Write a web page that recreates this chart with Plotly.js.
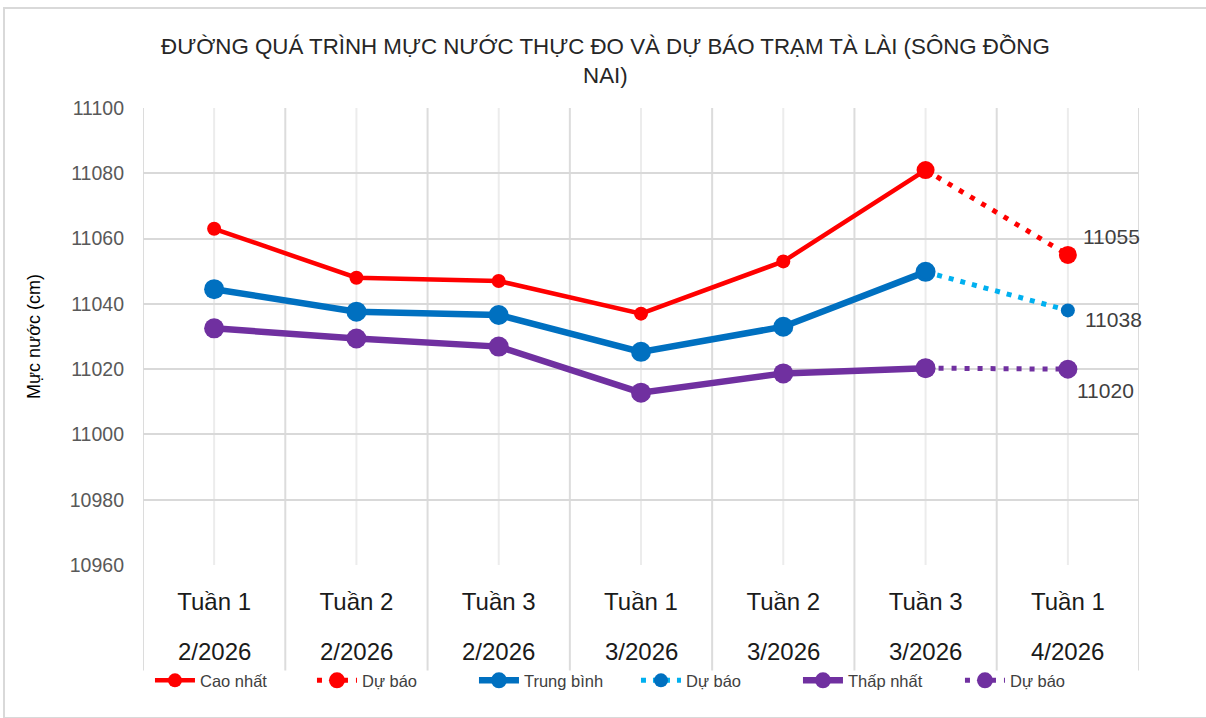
<!DOCTYPE html>
<html>
<head>
<meta charset="utf-8">
<script src="https://cdn.plot.ly/plotly-3.0.1.min.js"></script>
<style>
  html, body { margin: 0; padding: 0; background: #ffffff; }
  #frame { position: absolute; left: 3px; top: 7px; width: 1210px; height: 712px; border: 2px solid #d9d9d9; box-sizing: border-box; }
  #chart { position: absolute; left: 0; top: 0; width: 1206px; height: 718px; }
</style>
</head>
<body>
<div id="frame"></div>
<div id="chart"></div>
<script>
// ---- Data ----
const weeks   = ["Tuần 1", "Tuần 2", "Tuần 3", "Tuần 1", "Tuần 2", "Tuần 3", "Tuần 1"];
const months  = ["2/2026", "2/2026", "2/2026", "3/2026", "3/2026", "3/2026", "4/2026"];
const caoNhat    = [11063, 11048, 11047, 11037, 11053, 11081];
const trungBinh  = [11044.5, 11037.6, 11036.6, 11025.3, 11033, 11049.8];
const thapNhat   = [11032.5, 11029.4, 11026.9, 11012.8, 11018.7, 11020.3];
const duBaoCao   = 11055;
const duBaoTB    = 11038;
const duBaoThap  = 11020;
const yTicks     = [10960, 10980, 11000, 11020, 11040, 11060, 11080, 11100];

const categories = weeks.map((w, i) => w + "|" + months[i]);
const nObs = caoNhat.length;
const obsX = categories.slice(0, nObs);
const fcX = [categories[nObs - 1], categories[nObs]];

const RED = "#FF0000", BLUE = "#0070C0", LBLUE = "#00B0F0", PURPLE = "#7030A0";
const FONT = "Liberation Sans, Arial, sans-serif";

const traces = [
  { x: obsX, y: caoNhat, name: "Cao nhất", mode: "lines+markers",
    line: { color: RED, width: 4.5 }, marker: { color: RED, size: 14 } },
  { x: fcX, y: [caoNhat[nObs - 1], duBaoCao], name: "Dự báo", mode: "lines+markers",
    line: { color: RED, width: 5, dash: "5px,8px" }, marker: { color: RED, size: 18 } },
  { x: obsX, y: trungBinh, name: "Trung bình", mode: "lines+markers",
    line: { color: BLUE, width: 6.5 }, marker: { color: BLUE, size: 20 } },
  { x: fcX, y: [trungBinh[nObs - 1], duBaoTB], name: "Dự báo", mode: "lines+markers",
    line: { color: LBLUE, width: 5, dash: "5px,7px" }, marker: { color: BLUE, size: 14 } },
  { x: obsX, y: thapNhat, name: "Thấp nhất", mode: "lines+markers",
    line: { color: PURPLE, width: 6.5 }, marker: { color: PURPLE, size: 20 } },
  { x: fcX, y: [thapNhat[nObs - 1], duBaoThap], name: "Dự báo", mode: "lines+markers",
    line: { color: PURPLE, width: 5, dash: "5px,8px" }, marker: { color: PURPLE, size: 19 } }
];

// grid/separator lines (category positions derived from the category list)
const shapes = [];
for (let i = 0; i < categories.length; i++) {
  shapes.push({ type: "line", xref: "x", yref: "paper", x0: i, x1: i, y0: 0, y1: 1,
    line: { color: "#ececec", width: 2 }, layer: "below" });
}
for (let i = 0; i <= categories.length; i++) {
  shapes.push({ type: "line", xref: "x", yref: "paper", x0: i - 0.5, x1: i - 0.5, y0: -0.231, y1: 1,
    line: { color: "#dcdcdc", width: 2 }, layer: "below" });
}

const fcVals = [duBaoCao, duBaoTB, duBaoThap];
const fcShift = [[13, 18], [15, -9], [7, -21]];
const annotations = fcVals.map((v, k) => ({
  x: categories[nObs], y: v, xref: "x", yref: "y", text: String(v), showarrow: false,
  xanchor: "left", yanchor: "middle", xshift: fcShift[k][0], yshift: fcShift[k][1],
  font: { family: FONT, size: 21, color: "#404040" }
}));
// second row of category labels (months)
months.forEach((m, i) => annotations.push({
  x: categories[i], xref: "x", y: -0.19, yref: "paper", text: m, showarrow: false,
  xanchor: "center", yanchor: "middle", font: { family: FONT, size: 24, color: "#1a1a1a" }
}));

const layout = {
  width: 1206, height: 718,
  margin: { l: 143, r: 67, t: 108, b: 153 },
  paper_bgcolor: "rgba(0,0,0,0)", plot_bgcolor: "#ffffff",
  font: { family: FONT, color: "#404040" },
  title: {
    text: "ĐƯỜNG QUÁ TRÌNH MỰC NƯỚC THỰC ĐO VÀ DỰ BÁO TRẠM TÀ LÀI (SÔNG ĐỒNG<br>NAI)",
    font: { family: FONT, size: 22.3, color: "#262626" },
    x: 0.502, xanchor: "center", xref: "container", y: 0.925, yref: "container", yanchor: "middle"
  },
  xaxis: {
    type: "category", categoryorder: "array", categoryarray: categories,
    tickmode: "array", tickvals: categories, ticktext: weeks,
    range: [-0.5, categories.length - 0.5],
    showgrid: false, zeroline: false, showline: false, ticks: "",
    tickfont: { size: 24, color: "#1a1a1a" }, ticklabelstandoff: 20
  },
  yaxis: {
    range: [10960, 11100], tickmode: "array", tickvals: yTicks, tickformat: "d",
    showgrid: true, gridcolor: "#d9d9d9", gridwidth: 2, zeroline: false,
    showline: false, ticks: "", tickfont: { size: 19.5, color: "#595959" },
    ticklabelstandoff: 18,
    title: { text: "Mực nước (cm)", font: { size: 18, color: "#000000" }, standoff: 24 }
  },
  legend: {
    orientation: "h", x: 0.007, xanchor: "left", y: -0.253, yanchor: "middle",
    font: { size: 16.5, color: "#404040" }, bgcolor: "rgba(0,0,0,0)", traceorder: "normal",
    itemwidth: 40, entrywidth: 107
  },
  showlegend: true,
  shapes: shapes,
  annotations: annotations
};

Plotly.newPlot("chart", traces, layout, { displayModeBar: false, staticPlot: true });
</script>
</body>
</html>
